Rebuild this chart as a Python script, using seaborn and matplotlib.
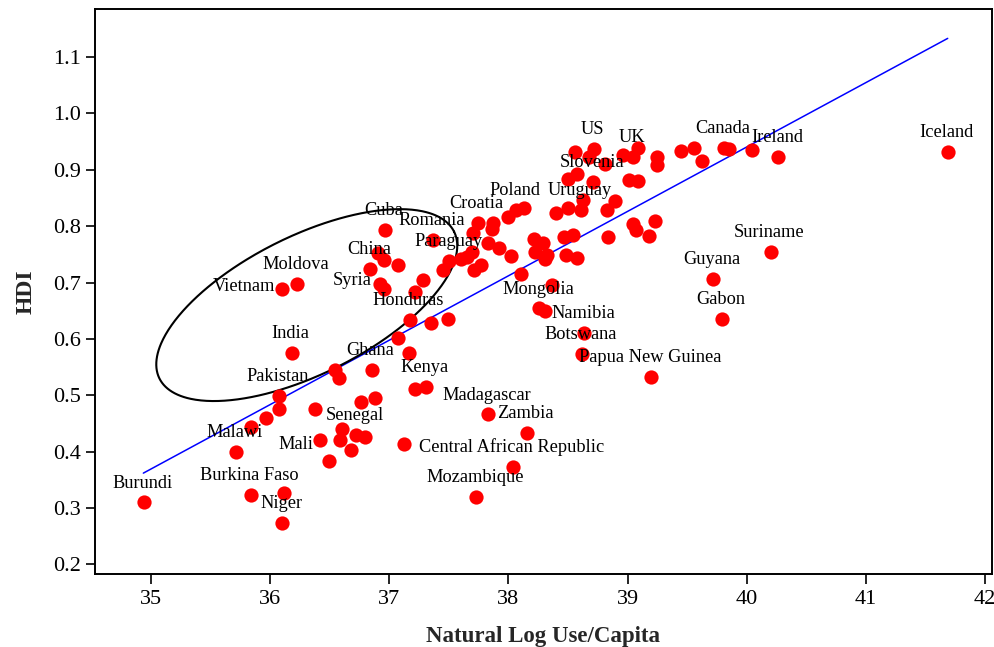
import numpy as np
import pandas as pd
import matplotlib
matplotlib.use("Agg")
import matplotlib.pyplot as plt
import seaborn as sns

# ---------------- data ----------------
use_per_capita = [
    34.943, 35.712, 35.837, 35.963, 36.072, 36.072, 35.837, 36.117, 36.103, 36.103,
    36.229, 36.184, 36.380, 36.416, 36.494, 36.589, 36.606, 36.681, 36.723, 36.795,
    36.759, 36.883, 36.541, 36.575, 36.854, 36.963, 36.904, 36.952, 37.072, 36.841,
    36.925, 36.952, 37.282, 37.212, 37.170, 37.352, 37.489, 37.072, 37.164, 37.212,
    37.310, 37.120, 37.367, 37.449, 37.505, 37.598, 37.656, 37.696, 37.769, 37.715,
    37.701, 37.746, 37.868, 37.863, 37.826, 37.920, 38.025, 38.106, 37.994, 38.067,
    38.130, 38.218, 38.288, 38.226, 38.327, 38.310, 38.400, 38.497, 38.612, 38.623,
    38.464, 38.545, 38.484, 38.578, 38.369, 38.260, 38.308, 38.637, 38.618, 39.201,
    37.826, 38.153, 38.042, 37.729, 38.560, 38.717, 38.679, 38.811, 38.578, 38.497,
    38.710, 38.960, 39.048, 39.092, 39.014, 39.084, 38.897, 38.824, 39.042, 39.067,
    39.231, 39.182, 38.840, 39.246, 39.246, 39.448, 39.559, 39.624, 39.811, 39.852,
    40.048, 40.266, 41.688, 40.202, 39.718, 39.796,
]
hdi = [
    0.310, 0.400, 0.444, 0.459, 0.475, 0.498, 0.323, 0.326, 0.273, 0.688,
    0.697, 0.575, 0.476, 0.420, 0.384, 0.420, 0.440, 0.403, 0.430, 0.426,
    0.489, 0.495, 0.545, 0.530, 0.545, 0.793, 0.752, 0.740, 0.731, 0.724,
    0.697, 0.688, 0.705, 0.683, 0.634, 0.628, 0.635, 0.602, 0.575, 0.511,
    0.514, 0.413, 0.775, 0.722, 0.738, 0.742, 0.745, 0.755, 0.731, 0.722,
    0.787, 0.806, 0.806, 0.795, 0.771, 0.761, 0.747, 0.715, 0.817, 0.829,
    0.833, 0.778, 0.770, 0.755, 0.749, 0.741, 0.823, 0.832, 0.829, 0.846,
    0.781, 0.784, 0.748, 0.744, 0.696, 0.654, 0.650, 0.610, 0.573, 0.532,
    0.466, 0.433, 0.373, 0.320, 0.932, 0.937, 0.923, 0.910, 0.893, 0.884,
    0.878, 0.926, 0.923, 0.938, 0.881, 0.880, 0.844, 0.829, 0.804, 0.793,
    0.810, 0.783, 0.781, 0.923, 0.908, 0.933, 0.939, 0.916, 0.939, 0.936,
    0.935, 0.923, 0.932, 0.754, 0.707, 0.635,
]
country = [
    "Burundi", "Malawi", "", "", "", "Pakistan", "Burkina Faso", "", "Niger", "Vietnam",
    "Moldova", "India", "", "Mali", "", "", "", "", "Senegal", "",
    "", "", "", "", "Ghana", "Cuba", "", "", "", "China",
    "Syria", "", "", "", "Honduras", "", "", "", "", "",
    "Kenya", "", "Romania", "", "Paraguay", "", "", "", "", "",
    "", "Croatia", "", "", "", "", "", "", "", "Poland",
    "", "", "", "", "", "", "", "", "Uruguay", "",
    "", "", "", "", "", "Mongolia", "", "Namibia", "Botswana", "Papua New Guinea",
    "Madagascar", "Zambia", "Central African Republic", "Mozambique", "", "US", "", "", "", "",
    "Slovenia", "", "UK", "", "", "", "", "", "", "",
    "", "", "", "", "", "", "", "", "Canada", "",
    "", "Ireland", "Iceland", "Suriname", "Guyana", "Gabon",
]

fit_x = [34.935, 41.688]
fit_y = [0.362, 1.133]

x_ticks = [35, 36, 37, 38, 39, 40, 41, 42]
y_ticks = [0.2, 0.3, 0.4, 0.5, 0.6, 0.7, 0.8, 0.9, 1.0, 1.1]
x_label = "Natural Log Use/Capita"
y_label = "HDI"

# labels placed to the left of their point instead of above
left_labels = {"Vietnam": (-5, 2), "Syria": (-6.5, 3), "Mali": (-4.5, -3)}

# ---------------- style ----------------
sns.set_theme(style="white")
plt.rcParams["font.family"] = ["Liberation Serif", "DejaVu Serif"]

fig = plt.figure(figsize=(9.94, 6.47), dpi=100)
ax = fig.add_axes([0.0952, 0.1136, 0.9028, 0.8724])

df = pd.DataFrame({"use": use_per_capita, "hdi": hdi, "country": country})

sns.lineplot(x=fit_x, y=fit_y, color="#0000ff", linewidth=1.1, ax=ax, zorder=2)
sns.scatterplot(data=df, x="use", y="hdi", color="#ff0000", s=105,
                linewidth=0, ax=ax, zorder=3)

ax.set_xlim(34.526, 42.06)
ax.set_ylim(0.184, 1.185)
ax.set_xticks(x_ticks)
ax.set_yticks(y_ticks)
ax.set_xticklabels([str(v) for v in x_ticks])
ax.set_yticklabels([f"{v:.1f}" for v in y_ticks])
ax.tick_params(axis="x", direction="out", length=7, width=1.2, color="black",
               labelsize=16, labelcolor="black", pad=5, bottom=True)
ax.tick_params(axis="y", direction="out", length=6.5, width=1.2, color="black",
               labelsize=16, labelcolor="black", pad=3.5, left=True)
for sp in ax.spines.values():
    sp.set_color("black")
    sp.set_linewidth(1.4)

ax.set_xlabel(x_label, fontsize=16.5, fontweight="bold", labelpad=12)
ax.set_ylabel(y_label, fontsize=17, fontweight="bold", labelpad=12)

for _, r in df.iterrows():
    if not r["country"]:
        continue
    if r["country"] in left_labels:
        dx, dy = left_labels[r["country"]]
        ax.annotate(r["country"], (r["use"], r["hdi"]), xytext=(dx, dy),
                    textcoords="offset points", ha="right", va="center",
                    fontsize=13.2, color="black", zorder=4)
    else:
        ax.annotate(r["country"], (r["use"], r["hdi"]), xytext=(-1, 14),
                    textcoords="offset points", ha="center", va="center",
                    fontsize=13.2, color="black", zorder=4)

# ellipse (drawn in screen space so it stays a true rotated ellipse)
ell_center = (36.307, 0.660)
ell_semi_px = (164.6, 69.0)
ell_angle = 26.5
t = np.linspace(0, 2 * np.pi, 500)
cx, cy = ax.transData.transform(ell_center)
th = np.deg2rad(ell_angle)
a, b = ell_semi_px
px = cx + a * np.cos(t) * np.cos(th) - b * np.sin(t) * np.sin(th)
py = cy + a * np.cos(t) * np.sin(th) + b * np.sin(t) * np.cos(th)
pts = ax.transData.inverted().transform(np.column_stack([px, py]))
ax.plot(pts[:, 0], pts[:, 1], color="black", linewidth=1.5, zorder=2.5)

fig.savefig("out.png", dpi=100)
